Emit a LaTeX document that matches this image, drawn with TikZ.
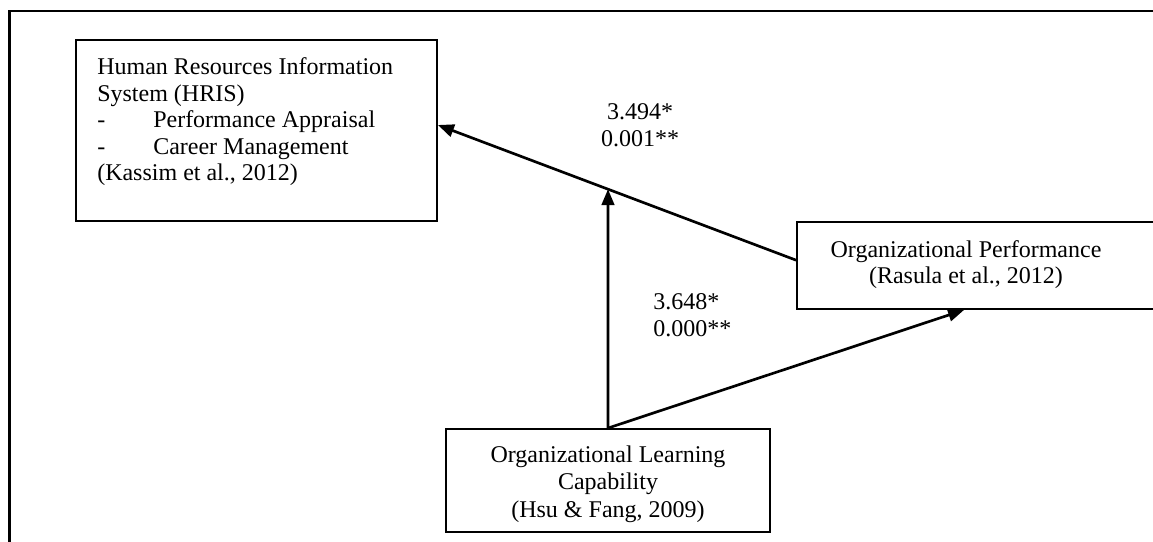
\documentclass[tikz,border=0pt]{standalone}
\usepackage{fontspec}
\setmainfont{Liberation Serif}
\usetikzlibrary{arrows.meta,calc}
\begin{document}
\begin{tikzpicture}[x=0.75pt,y=-0.75pt,
  box/.style={draw=black,line width=1.4pt,inner sep=0pt},
  txt/.style={font=\fontsize{18}{19.9}\selectfont,inner sep=0pt},
  link/.style={draw=black,line width=2pt,-{Triangle[length=12pt,width=9.5pt]}}]
\useasboundingbox (0,0) rectangle (1153,542);
\clip (0,0) rectangle (1153,542);
% outer frame
\draw[line width=1.6pt] (9.5,560) |- (1170,11);
% boxes
\node[box,minimum width=270.75pt,minimum height=135.75pt] (hris) at (256.5,130.5) {};
\node[txt,anchor=north west,align=left] (hristext) at (97,57.6)
  {Human Resources Information\\System (HRIS)\\\makebox[42pt][l]{-}Performance Appraisal\\\makebox[42pt][l]{-}Career Management\\(Kassim et al., 2012)};
\node[box,minimum width=276pt,minimum height=65.25pt] (op) at (981,265.5) {};
\node[txt,align=center] (optext) at (966,264.5)
  {Organizational Performance\\(Rasula et al., 2012)};
\node[box,minimum width=243pt,minimum height=77.25pt] (olc) at (608,480.5) {};
\node[txt,font=\fontsize{18}{20.6}\selectfont,align=center] (olctext) at (608,484)
  {Organizational Learning\\Capability\\(Hsu \& Fang, 2009)};
% connectors
\coordinate (hrisin) at ($(hris.north east)!0.47!(hris.south east)$);
\coordinate (opout) at ($(op.north west)!0.44!(op.south west)$);
\coordinate (opin) at ($(op.south west)+(168,0)$);
\coordinate (vtop) at (olc.north |- hris.north);
\coordinate (meet) at (intersection of opout--hrisin and olc.north--vtop);
\draw[link] (opout) -- (hrisin);
\draw[link] (olc.north) -- (meet);
\draw[link] (olc.north) -- (opin);
% coefficients
\node[txt,align=center] (b1) at (640,125) {3.494*\\0.001**};
\node[txt,align=left,anchor=west] (b2) at (653,315) {3.648*\\0.000**};
\end{tikzpicture}
\end{document}
